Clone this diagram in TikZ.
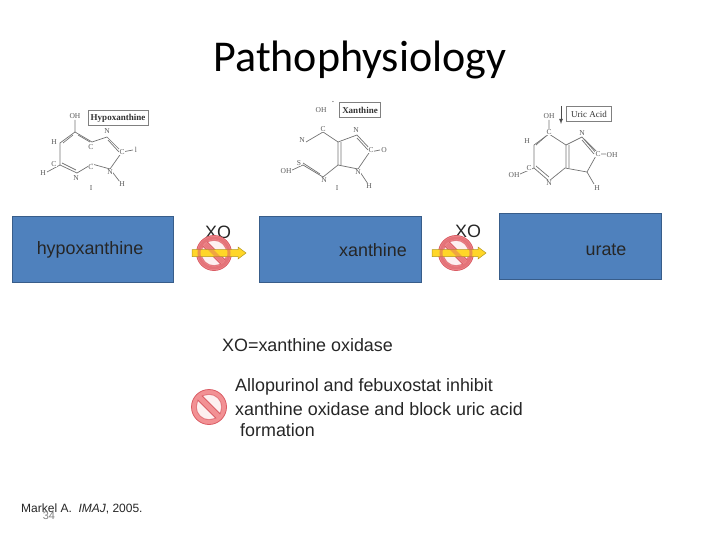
\documentclass[tikz,border=0pt]{standalone}
\usepackage{fontspec}
\setmainfont{Liberation Sans}
\newfontfamily\titlefont{Carlito}
\newfontfamily\chemfont{Liberation Serif}
\usetikzlibrary{calc}
\definecolor{boxblue}{RGB}{79,129,189}
\definecolor{boxedge}{RGB}{56,93,138}
\definecolor{signred}{RGB}{218,92,100}
\definecolor{signpink}{RGB}{242,145,148}
\definecolor{signfill}{RGB}{252,225,225}
\definecolor{arrowyellow}{RGB}{255,214,40}
\definecolor{chemgray}{RGB}{115,115,115}
\tikzset{
  x=1pt,y=-1pt,
  bluebox/.style={draw=boxedge,fill=boxblue,line width=0.9pt,inner sep=0pt,minimum width=#1,minimum height=66pt},
  lab/.style={font=\fontsize{17.9}{20}\selectfont,text=black!85,inner sep=0pt},
  bond/.style={chemgray,line width=0.7pt},
  atom/.style={font=\chemfont\fontsize{7.5}{8}\selectfont,text=black!65,inner sep=0.4pt,fill=white},
  namebox/.style={draw=black!50,line width=0.6pt,fill=white,font=\chemfont\bfseries\fontsize{9}{10}\selectfont,inner sep=1pt,text=black!80,minimum height=15.5pt},
  nosign/.pic={
    \draw[signred,line width=0.8pt,fill=signpink,even odd rule] (0,0) circle[radius=17.5pt] (0,0) circle[radius=12.6pt];
    \fill[signfill,fill opacity=0.5] (0,0) circle[radius=12.6pt];
    \draw[signpink,line width=6pt] (-9.5,-9.5) -- (9.5,9.5);
    \draw[signred,line width=0.8pt] (-11.4,-7.2) -- (7.2,11.4);
    \draw[signred,line width=0.8pt] (-7.2,-11.4) -- (11.4,7.2);
  },
  yellowarrow/.pic={
    \draw[black!30!arrowyellow,fill=arrowyellow,line width=0.5pt] (-27,-3.5) -- (19,-3.5) -- (19,-6) -- (27,0) -- (19,6) -- (19,3.5) -- (-27,3.5) -- cycle;
  },
}
\begin{document}
\begin{tikzpicture}
\useasboundingbox (0,0) rectangle (720,540);
\node[font=\titlefont\fontsize{44}{50}\selectfont,text=black,inner sep=0pt] (title) at (360,60) {Pathophysiology};

% blue boxes
\node[bluebox=161pt] (hypo) at (93,249.5) {};
\node[bluebox=162pt] (xan) at (340,249.5) {};
\node[bluebox=162pt] (urate) at (580,246) {};
\node[lab] (thypo) at (90,250) {hypoxanthine};
\node[lab] (txan) at (373,250) {xanthine};
\node[lab] (turate) at (606,250) {urate};

% arrows with XO
\node[lab] (xo1) at (218,232) {XO};
\node[lab] (xo2) at (468,231) {XO};
\coordinate (ar1) at (219,253);
\coordinate (ar2) at (459,253);
\coordinate (s1) at (214,253);
\coordinate (s2) at (456,253);
\pic at (s1) {nosign};
\pic at (s2) {nosign};
\pic at (ar1) {yellowarrow};
\pic at (ar2) {yellowarrow};
\draw[signred,line width=3pt,opacity=0.55] (s1) circle[radius=15pt];
\draw[signred,line width=3pt,opacity=0.55] (s2) circle[radius=15pt];
\draw[signred,line width=4pt,opacity=0.4] ($(s1)+(-9,-9)$) -- ($(s1)+(9,9)$);
\draw[signred,line width=4pt,opacity=0.4] ($(s2)+(-9,-9)$) -- ($(s2)+(9,9)$);

% texts
\node[lab,anchor=west] (xodef) at (222,345) {XO=xanthine oxidase};
\node[lab,anchor=west] (l1) at (235,387) {Allopurinol and febuxostat inhibit};
\node[lab,anchor=west] (l2) at (235,409) {xanthine oxidase and block uric acid};
\node[lab,anchor=west] (l3) at (240,430) {formation};

% legend sign
\coordinate (s3) at (209,407);
\pic at (s3) {nosign};

% citation
\node[font=\fontsize{12}{14}\selectfont,text=black!85,inner sep=0pt,anchor=west] (cite) at (21,508.5) {Markel A.\ \ \textit{IMAJ}, 2005.};
\node[font=\fontsize{11}{14}\selectfont,text=black!50,inner sep=0pt] (pg) at (49,516) {34};

% hypoxanthine structure
\draw[bond] (75,132)--(92,142)--(107,137)--(122,152)--(110,169)--(92,164)--(77,173)--(60,165)--(60,143)--cycle;
\draw[bond] (73,135)--(63,143) (78,135)--(90,142) (62,163)--(76,170) (108,140)--(119,152);
\draw[bond] (75,132)--(75,120) (60,165)--(47,172) (110,169)--(120,182) (122,152)--(133,150);
\node[atom] (h1) at (75,116) {OH};
\node[atom] (h2) at (54,142) {H};
\node[atom] (h3) at (54,164) {C};
\node[atom] (h4) at (43,173) {H};
\node[atom] (h5) at (76,178) {N};
\node[atom] (h6) at (91,147) {C};
\node[atom] (h7) at (91,167) {C};
\node[atom] (h8) at (107,131) {N};
\node[atom] (h9) at (122,152) {C};
\node[atom] (h10) at (110,172) {N};
\node[atom] (h11) at (122,184) {H};
\node[atom] (h12) at (91,188) {I};
\node[atom] (h13) at (136,150) {l};
\node[namebox,minimum width=60pt] (hname) at (118,118) {Hypoxanthine};

% xanthine structure
\draw[bond] (323,132)--(338,142)--(357,135)--(371,150)--(358,169)--(338,165)--(323,177)--(303,165);
\draw[bond] (323,132)--(306,142);
\draw[bond] (338,142)--(338,165) (341,142)--(341,165) (303,163)--(320,174) (357,138)--(368,150) (370,152)--(380,150) (358,169)--(368,184) (303,165)--(290,171);
\node[atom] (x1) at (323,129) {C};
\node[atom] (x2) at (302,140) {N};
\node[atom] (x3) at (299,163) {S};
\node[atom] (x4) at (286,171) {OH};
\node[atom] (x5) at (324,180) {N};
\node[atom] (x6) at (356,130) {N};
\node[atom] (x7) at (371,150) {C};
\node[atom] (x8) at (384,150) {O};
\node[atom] (x9) at (358,172) {N};
\node[atom] (x10) at (369,186) {H};
\node[atom] (x11) at (337,188) {I};
\node[atom] (x12) at (321,110) {OH};
\node[atom] (x13) at (333,102) {\textbf{.}};
\node[namebox,minimum width=41pt] (xname) at (360,110) {Xanthine};

% uric acid structure
\draw[bond] (549,134)--(566,145)--(582,137)--(597,154)--(587,172)--(565,168)--(549,181)--(534,168)--(534,145)--cycle;
\draw[bond] (566,145)--(566,168) (569,145)--(569,168) (536,166)--(549,177) (546,136)--(536,145) (582,140)--(594,154) (584,139)--(596,151);
\draw[bond] (549,134)--(549,120) (534,168)--(520,174) (597,154)--(607,154) (587,172)--(594,184);
\draw[black!70,line width=0.8pt,-latex] (561,106)--(561,124);
\node[atom] (u1) at (549,116) {OH};
\node[atom] (u2) at (549,132) {C};
\node[atom] (u3) at (527,141) {H};
\node[atom] (u4) at (529,168) {C};
\node[atom] (u5) at (514,175) {OH};
\node[atom] (u6) at (549,183) {N};
\node[atom] (u7) at (582,133) {N};
\node[atom] (u8) at (598,154) {C};
\node[atom] (u9) at (612,155) {OH};
\node[atom] (u10) at (597,188) {H};
\node[namebox,font=\chemfont\fontsize{9}{10}\selectfont,minimum width=45pt] (uname) at (589,114) {Uric Acid};
\end{tikzpicture}
\end{document}
